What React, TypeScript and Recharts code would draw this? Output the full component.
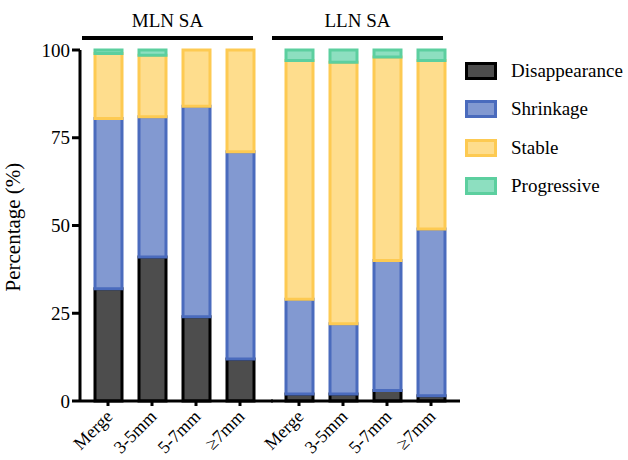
import React from "react";
import { BarChart, Bar, XAxis, YAxis } from "recharts";

const sizes = ["Merge", "3-5mm", "5-7mm", "≥7mm"];

// MLN SA group (%)
const mlnDisappearance = [32, 41, 24, 12];
const mlnShrinkage = [48.5, 40, 60, 59];
const mlnStable = [18.5, 17.5, 16, 29];
const mlnProgressive = [1, 1.5, 0, 0];

// LLN SA group (%)
const llnDisappearance = [2, 2, 3, 1.5];
const llnShrinkage = [27, 20, 37, 47.5];
const llnStable = [68, 74.5, 58, 48];
const llnProgressive = [3, 3.5, 2, 3];

const yTicks = [0, 25, 50, 75, 100];

const series = [
  { key: "disappearance", name: "Disappearance", fill: "#4d4d4d", stroke: "#000000" },
  { key: "shrinkage", name: "Shrinkage", fill: "#8299d1", stroke: "#4a6bbd" },
  { key: "stable", name: "Stable", fill: "#fedd8d", stroke: "#fdca52" },
  { key: "progressive", name: "Progressive", fill: "#8ddfc0", stroke: "#5ccf9f" },
];

const build = (d: number[], s: number[], st: number[], p: number[]) =>
  sizes.map((name, i) => ({
    name,
    disappearance: d[i],
    shrinkage: s[i],
    stable: st[i],
    progressive: p[i],
  }));

const mlnData = build(mlnDisappearance, mlnShrinkage, mlnStable, mlnProgressive);
const llnData = build(llnDisappearance, llnShrinkage, llnStable, llnProgressive);

const FONT = "Liberation Serif, Times New Roman, DejaVu Serif, serif";

const XTick = (props: any) => {
  const { x, y, payload } = props;
  return (
    <g transform={`translate(${x},${y + 4})`}>
      <text
        textAnchor="end"
        transform="rotate(-45)"
        fontFamily={FONT}
        fontSize={18}
        fill="#000"
        dy={8}
      >
        {payload.value}
      </text>
    </g>
  );
};

const bars = () =>
  series.map((s) => (
    <Bar
      key={s.key}
      dataKey={s.key}
      stackId="a"
      fill={s.fill}
      stroke={s.stroke}
      strokeWidth={3}
      barSize={27}
      isAnimationActive={false}
    />
  ));

const xAxisProps = {
  dataKey: "name",
  interval: 0 as const,
  axisLine: { stroke: "#000", strokeWidth: 3 },
  tickLine: { stroke: "#000", strokeWidth: 3 },
  tickSize: 5,
  tick: <XTick />,
  height: 59,
};

const Group = ({ label, x1, x2 }: { label: string; x1: number; x2: number }) => (
  <>
    <div
      style={{
        position: "absolute",
        left: x1,
        width: x2 - x1,
        top: 10,
        textAlign: "center",
        fontFamily: FONT,
        fontSize: 19,
        lineHeight: "22px",
      }}
    >
      {label}
    </div>
    <div
      style={{
        position: "absolute",
        left: x1,
        width: x2 - x1,
        top: 36,
        height: 4,
        background: "#000",
      }}
    />
  </>
);

export default function App() {
  return (
    <div
      style={{
        position: "absolute",
        left: 0,
        top: 0,
        width: 628,
        height: 460,
        overflow: "hidden",
        background: "#fff",
        fontFamily: FONT,
      }}
    >
      <div style={{ position: "absolute", left: 0, top: 0 }}>
        <BarChart
          width={273}
          height={460}
          data={mlnData}
          margin={{ top: 50, right: 0, bottom: 0, left: 0 }}
          barCategoryGap={0}
        >
          <XAxis {...xAxisProps} padding={{ left: 6, right: 11 }} />
          <YAxis
            domain={[0, 100]}
            ticks={yTicks}
            width={80}
            axisLine={{ stroke: "#000", strokeWidth: 3 }}
            tickLine={{ stroke: "#000", strokeWidth: 3 }}
            tickSize={8}
            tick={{ fill: "#000", fontSize: 19, fontFamily: FONT }}
            label={{
              value: "Percentage (%)",
              angle: -90,
              position: "insideLeft",
              dx: 8,
              dy: 66,
              style: { fill: "#000", fontSize: 21, fontFamily: FONT },
            }}
          />
          {bars()}
        </BarChart>
      </div>
      <div style={{ position: "absolute", left: 200, top: 0 }}>
        <BarChart
          width={428}
          height={460}
          data={llnData}
          margin={{ top: 50, right: 168, bottom: 0, left: 71 }}
          barCategoryGap={0}
        >
          <XAxis {...xAxisProps} padding={{ left: 6, right: 7 }} />
          <YAxis
            domain={[0, 100]}
            ticks={yTicks}
            width={0}
            axisLine={{ stroke: "#000", strokeWidth: 3 }}
            tick={false}
            tickLine={false}
          />
          {bars()}
        </BarChart>
      </div>
      <Group label="MLN SA" x1={82} x2={253} />
      <Group label="LLN SA" x1={272} x2={443} />
      <div style={{ position: "absolute", left: 465, top: 52 }}>
        {series.map((s) => (
          <div
            key={s.key}
            style={{ display: "flex", alignItems: "center", height: 38.3 }}
          >
            <div
              style={{
                width: 26,
                height: 12,
                background: s.fill,
                border: `3px solid ${s.stroke}`,
              }}
            />
            <span style={{ marginLeft: 14, fontSize: 19, color: "#000" }}>{s.name}</span>
          </div>
        ))}
      </div>
    </div>
  );
}
